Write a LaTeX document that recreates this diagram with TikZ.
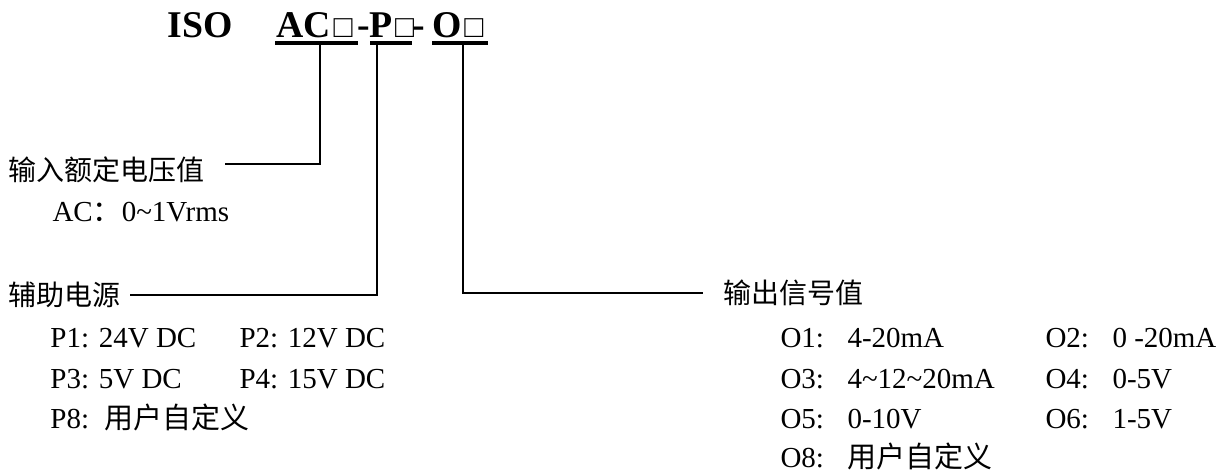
\documentclass[tikz,border=0pt]{standalone}
\usepackage{fontspec}
\setmainfont{Liberation Serif}
\newfontfamily\cjk{Noto Sans CJK SC}
\newcommand{\tabkey}[1]{\makebox[26.8pt][l]{#1}}
\newcommand{\sqbox}{{\fontsize{12.6}{14}\selectfont\hspace{1pt}□}}

\begin{document}
\begin{tikzpicture}[x=0.4pt, y=-0.4pt,
    every node/.style={inner sep=0pt, font=\fontsize{11.6}{14}\selectfont},
    modeltext/.style={anchor=base west, font=\fontsize{15.1}{18}\selectfont\bfseries},
    itemtext/.style={anchor=base west},
    headtext/.style={anchor=west, font=\fontsize{11.2}{14}\selectfont\cjk},
    underbar/.style={line width=1.6pt},
    tapline/.style={line width=0.8pt}]
        \useasboundingbox (0,0) rectangle (1218,475);
        % model code
        \node [modeltext] (iso) at (167,37) {ISO};
        \node [modeltext] (ac) at (276,37) {AC\sqbox};
        \node [modeltext] (dash1) at (357,37) {-};
        \node [modeltext] (p) at (369,37) {P\sqbox};
        \node [modeltext] (dash2) at (412,37) {-};
        \node [modeltext] (o) at (432,37) {O\sqbox};
        \draw [underbar] (275,43) -- (358,43);
        \draw [underbar] (370,43) -- (412,43);
        \draw [underbar] (432,43) -- (488,43);
        \coordinate (acTap) at (320,43);
        \coordinate (pTap) at (377,43);
        \coordinate (oTap) at (463,43);
        % input
        \node [headtext] (inlbl) at (8,170) {输入额定电压值};
        \node [itemtext] (acval) at (52,221) {AC{\cjk ：}0\textasciitilde1Vrms};
        \draw [tapline] (acTap) |- ([xshift=8pt, yshift=2.4pt]inlbl.east);
        % auxiliary supply
        \node [headtext] (auxlbl) at (8,295) {辅助电源};
        \node [itemtext] (p1) at (50,347) {P1: 24V DC};
        \node [itemtext] (p2) at (239,347) {P2: 12V DC};
        \node [itemtext] (p3) at (50,388) {P3: 5V DC};
        \node [itemtext] (p4) at (239,388) {P4: 15V DC};
        \node [itemtext] (p8) at (50,428) {P8:\hspace{6pt}{\cjk 用户自定义}};
        \draw [tapline] (pTap) |- ([xshift=3.6pt]auxlbl.east);
        % output
        \node [headtext] (outlbl) at (723,293) {输出信号值};
        \node [itemtext] (o1) at (780,347) {\tabkey{O1:}4-20mA};
        \node [itemtext] (o2) at (1045,347) {\tabkey{O2:}0 -20mA};
        \node [itemtext] (o3) at (780,388) {\tabkey{O3:}4\textasciitilde12\textasciitilde20mA};
        \node [itemtext] (o4) at (1045,388) {\tabkey{O4:}0-5V};
        \node [itemtext] (o5) at (780,428) {\tabkey{O5:}0-10V};
        \node [itemtext] (o6) at (1045,428) {\tabkey{O6:}1-5V};
        \node [itemtext] (o8) at (780,467) {\tabkey{O8:}{\cjk 用户自定义}};
        \draw [tapline] (oTap) |- ([xshift=-8pt]outlbl.west);

    \end{tikzpicture}
\end{document}
